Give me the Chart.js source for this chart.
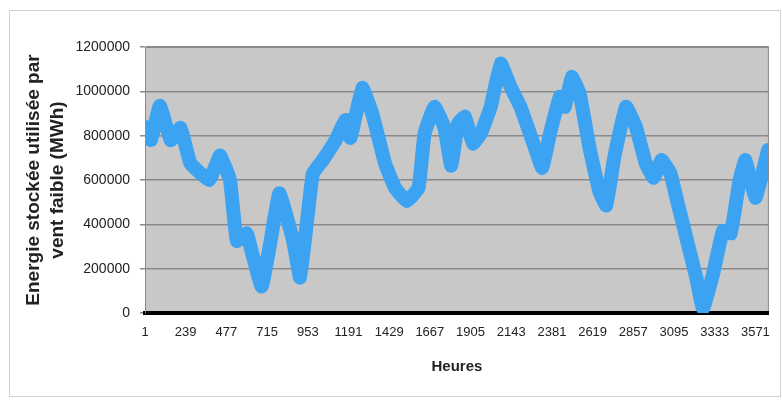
<!DOCTYPE html>
<html>
<head>
<meta charset="utf-8">
<script src="https://cdn.jsdelivr.net/npm/chart.js@4.4.0/dist/chart.umd.min.js"></script>
<style>
  html, body { margin: 0; padding: 0; background: #fff; }
  #wrap { width: 782px; height: 401px; }
</style>
</head>
<body>
<div id="wrap"><canvas id="myChart"></canvas></div>
<script>
// hours along the year and stored energy (MWh) at each of them
const hours = [1, 36, 88, 151, 209, 267, 377, 440, 498, 538, 596, 619, 683, 729, 787, 868, 908, 954, 983, 1041,
  1116, 1174, 1203, 1272, 1330, 1405, 1463, 1532, 1601, 1636, 1694, 1751, 1792, 1832, 1873, 1919, 1965, 2023,
  2081, 2139, 2197, 2266, 2324, 2370, 2427, 2456, 2497, 2543, 2601, 2658, 2699, 2745, 2814, 2872, 2930, 2976,
  3022, 3074, 3109, 3167, 3225, 3265, 3323, 3381, 3427, 3479, 3513, 3571, 3612, 3645];
const energy = [840000, 780000, 935000, 780000, 835000, 675000, 600000, 710000, 600000, 325000, 360000, 295000,
  120000, 295000, 540000, 325000, 160000, 450000, 630000, 690000, 780000, 870000, 790000, 1015000, 900000,
  675000, 565000, 505000, 565000, 810000, 930000, 840000, 665000, 855000, 885000, 765000, 810000, 930000,
  1125000, 1020000, 930000, 780000, 655000, 810000, 975000, 930000, 1065000, 990000, 745000, 550000, 485000,
  700000, 930000, 840000, 675000, 610000, 690000, 630000, 520000, 340000, 160000, 20000, 175000, 370000,
  360000, 600000, 690000, 520000, 630000, 735000];

const hourTicks = [1, 239, 477, 715, 953, 1191, 1429, 1667, 1905, 2143, 2381, 2619, 2857, 3095, 3333, 3571];
const energyTicks = [0, 200000, 400000, 600000, 800000, 1000000, 1200000];

const frame = {
  id: 'frame',
  beforeDraw(chart) {
    const c = chart.ctx;
    const a = chart.chartArea;
    c.save();
    c.fillStyle = '#ffffff';
    c.fillRect(0, 0, chart.width, chart.height);
    c.strokeStyle = '#d2d2d2';
    c.lineWidth = 1;
    c.strokeRect(9.5, 10.5, 771, 386);
    c.fillStyle = '#c8c8c8';
    c.fillRect(a.left, a.top, a.right - a.left, a.bottom - a.top);
    c.restore();
  },
  afterDraw(chart) {
    const c = chart.ctx;
    const a = chart.chartArea;
    c.save();
    c.strokeStyle = '#8a8a8a';
    c.lineWidth = 1;
    c.beginPath();
    c.moveTo(a.left, a.top + 0.5);
    c.lineTo(a.right - 0.5, a.top + 0.5);
    c.lineTo(a.right - 0.5, a.bottom - 2);
    c.stroke();
    c.restore();
  }
};

const ctx = document.getElementById('myChart').getContext('2d');
const myChart = new Chart(ctx, {
  type: 'line',
  data: {
    datasets: [{
      data: hours.map((h, i) => ({ x: h, y: energy[i] })),
      borderColor: '#3ba3f2',
      borderWidth: 14,
      borderJoinStyle: 'round',
      borderCapStyle: 'round',
      pointRadius: 0,
      tension: 0.1,
      fill: false
    }]
  },
  options: {
    responsive: true,
    maintainAspectRatio: false,
    animation: false,
    layout: { padding: { left: 10, right: 7, top: 47, bottom: 8 } },
    plugins: {
      legend: { display: false },
      tooltip: { enabled: false }
    },
    scales: {
      x: {
        type: 'linear',
        min: 1,
        max: 3650,
        afterBuildTicks: (scale) => { scale.ticks = hourTicks.map(v => ({ value: v })); },
        afterFit: (scale) => { scale.height = 80; },
        grid: { display: false, drawTicks: false },
        border: { display: true, color: '#000', width: 4 },
        ticks: {
          autoSkip: false,
          maxRotation: 0,
          padding: 12,
          color: '#222',
          font: { family: 'Liberation Sans, Arial, sans-serif', size: 13 },
          callback: (v) => String(v)
        },
        title: {
          display: true,
          text: 'Heures',
          color: '#222',
          padding: { top: 0, bottom: 17 },
          font: { family: 'Liberation Sans, Arial, sans-serif', size: 15, weight: 'bold' }
        }
      },
      y: {
        min: 0,
        max: 1200000,
        afterBuildTicks: (scale) => { scale.ticks = energyTicks.map(v => ({ value: v })); },
        afterFit: (scale) => { scale.width = 135; },
        grid: { color: '#8a8a8a', lineWidth: 1.5, tickLength: 5, tickColor: '#8a8a8a' },
        border: { display: true, color: '#8a8a8a', width: 1 },
        ticks: {
          padding: 10,
          color: '#222',
          font: { family: 'Liberation Sans, Arial, sans-serif', size: 14 },
          callback: (v) => String(v)
        },
        title: {
          display: true,
          text: ['Energie stockée utilisée par', 'vent faible (MWh)'],
          color: '#222',
          padding: { top: 12, bottom: 0 },
          font: { family: 'Liberation Sans, Arial, sans-serif', size: 19, weight: 'bold', lineHeight: 1.25 }
        }
      }
    }
  },
  plugins: [frame]
});
</script>
</body>
</html>
